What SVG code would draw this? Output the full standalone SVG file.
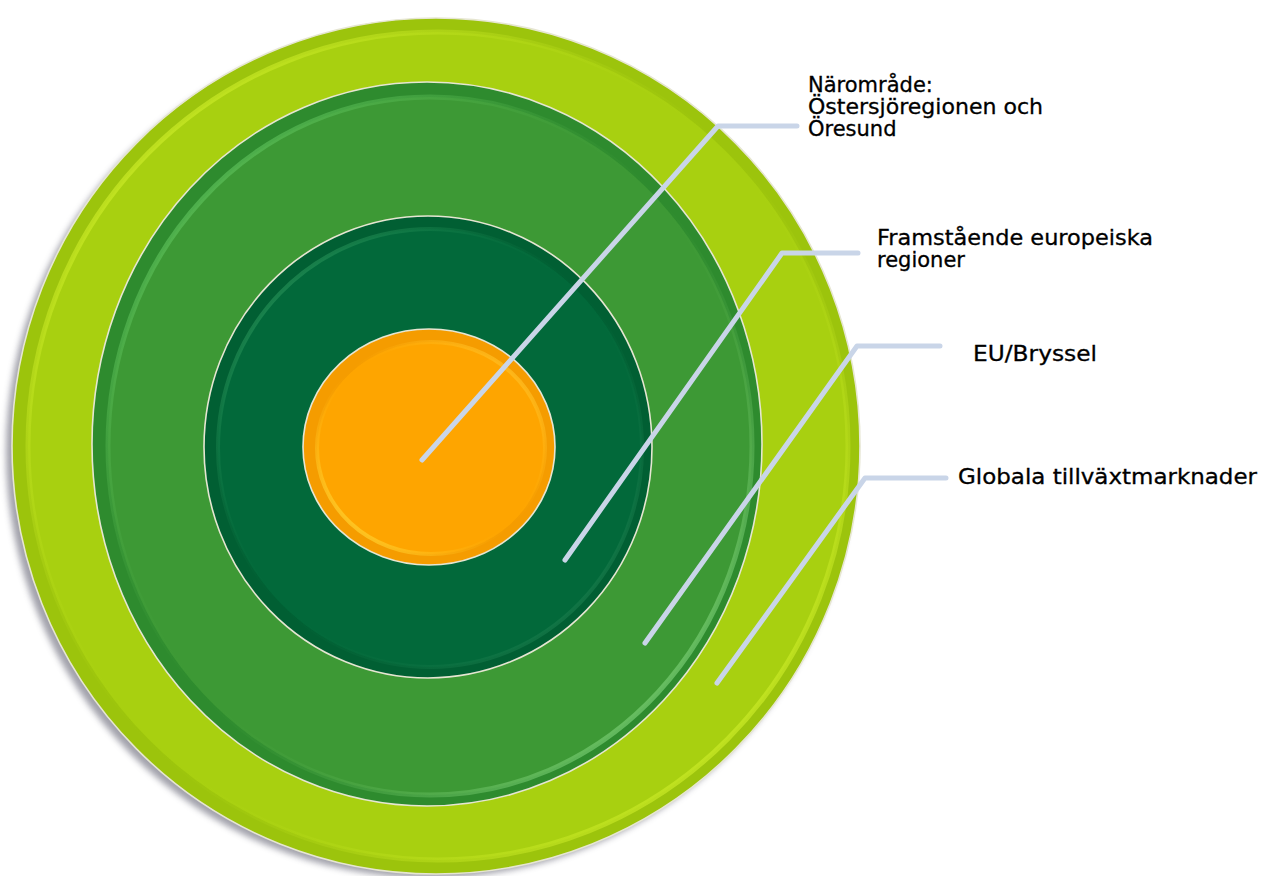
<svg xmlns="http://www.w3.org/2000/svg" width="1264" height="876" viewBox="0 0 1264 876">
<defs>
<filter id="shadow" x="-10%" y="-10%" width="120%" height="120%">
<feGaussianBlur stdDeviation="3"/>
</filter>
<linearGradient id="rimOuter" x1="0" y1="0" x2="1" y2="1">
<stop offset="0" stop-color="#d8f530"/>
<stop offset="0.5" stop-color="#a6ce10" stop-opacity="0"/>
<stop offset="1" stop-color="#d8f530"/>
</linearGradient>
<linearGradient id="rimMid" x1="0" y1="0" x2="1" y2="1">
<stop offset="0" stop-color="#66cc66"/>
<stop offset="0.5" stop-color="#3d9935" stop-opacity="0"/>
<stop offset="1" stop-color="#8fe08a"/>
</linearGradient>
<linearGradient id="rimDark" x1="0" y1="0" x2="1" y2="1">
<stop offset="0" stop-color="#2f9a5e"/>
<stop offset="0.5" stop-color="#02693a" stop-opacity="0"/>
<stop offset="1" stop-color="#1f8050"/>
</linearGradient>
<linearGradient id="rimOrange" x1="1" y1="0" x2="0" y2="1">
<stop offset="0" stop-color="#ffc830"/>
<stop offset="0.5" stop-color="#fea500" stop-opacity="0"/>
<stop offset="1" stop-color="#ffe040"/>
</linearGradient>
</defs>
<style>
.edge{stroke:#e6e6d2;stroke-width:1.6}
.conn{fill:none;stroke:#c9d5e8;stroke-width:5;stroke-linecap:round;stroke-linejoin:round}
.lbl{font-family:"DejaVu Sans","Liberation Sans",sans-serif;font-size:21px;fill:#000;stroke:#000;stroke-width:0.3}
</style>
<rect width="1264" height="876" fill="#ffffff"/>
<ellipse cx="430" cy="452" rx="424" ry="426" fill="#555566" opacity="0.55" filter="url(#shadow)"/>
<g id="ring-global">
<ellipse class="edge" cx="436" cy="446" rx="424" ry="428" fill="#9cc40c"/>
<ellipse cx="438" cy="446" rx="410" ry="414" fill="#a8d010" stroke="url(#rimOuter)" stroke-width="5"/>
</g>
<g id="ring-eu">
<ellipse class="edge" cx="427" cy="444" rx="335" ry="362" fill="#2e8b2e"/>
<ellipse cx="430" cy="446" rx="322" ry="349" fill="#3d9935" stroke="url(#rimMid)" stroke-width="5"/>
</g>
<g id="ring-europe">
<ellipse class="edge" cx="428" cy="447" rx="224" ry="231" fill="#015f33"/>
<ellipse cx="430" cy="448" rx="212" ry="219" fill="#02693a" stroke="url(#rimDark)" stroke-width="4"/>
</g>
<g id="ring-near">
<ellipse class="edge" cx="429" cy="447" rx="126" ry="118" fill="#f59c00"/>
<ellipse cx="431" cy="448" rx="114" ry="106" fill="#fea500" stroke="url(#rimOrange)" stroke-width="4"/>
</g>
<g id="connectors">
<polyline class="conn" points="422,460 718,126 797,126"/>
<polyline class="conn" points="565,560 782,253 858,253"/>
<polyline class="conn" points="645,643 857,346 940,346"/>
<polyline class="conn" points="717,683 865,478 946,478"/>
</g>
<g id="label-near">
<text class="lbl" x="808" y="92">Närområde:</text>
<text class="lbl" x="808" y="114" textLength="235" lengthAdjust="spacingAndGlyphs">Östersjöregionen och</text>
<text class="lbl" x="808" y="136">Öresund</text>
</g>
<g id="label-europe">
<text class="lbl" x="877" y="245" textLength="276" lengthAdjust="spacingAndGlyphs">Framstående europeiska</text>
<text class="lbl" x="877" y="267">regioner</text>
</g>
<g id="label-eu">
<text class="lbl" x="973" y="361" textLength="124" lengthAdjust="spacingAndGlyphs">EU/Bryssel</text>
</g>
<g id="label-global">
<text class="lbl" x="958" y="484" textLength="299" lengthAdjust="spacingAndGlyphs">Globala tillväxtmarknader</text>
</g>
</svg>
